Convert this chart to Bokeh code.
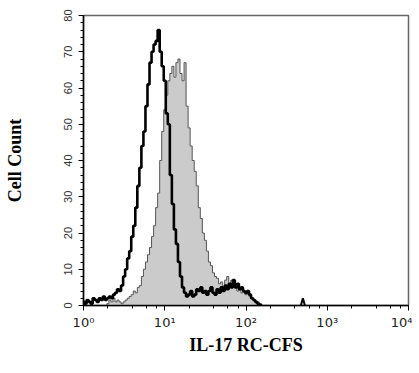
import numpy as np
from bokeh.plotting import figure
from bokeh.models import LogTicker, SingleIntervalTicker, CustomJSTickFormatter, Range1d
from bokeh.embed import file_html
from bokeh.resources import INLINE

# log10 channel positions (start and step of the histogram bins)
log_start = 0.0
log_step = 0.025

isotype_counts = [
    1, 0.5, 1.5, 1, 0.5, 2, 1.5, 1, 2, 1.5,
    2.5, 1.5, 2, 2.5, 2, 3, 3.5, 4.5, 4, 5.5,
    8, 10, 13, 15, 19, 22, 27, 33, 38, 44,
    48, 55, 61, 67, 70, 72, 73, 76, 70, 66,
    62, 53, 50, 36, 28, 21, 17, 12, 8, 5,
    3.5, 2.5, 3, 4, 2.5, 3, 4.5, 4, 5, 3.5,
    4, 3, 4, 5, 3.5, 3, 4.5, 3.5, 5, 4,
    5.5, 4.5, 6, 5, 7, 5, 6, 4.5, 5, 4,
    3.5, 4, 3, 2, 1.5, 1, 0.5, 0.2, 0,
]

il17rc_counts = [
    0, 0, 0, 0, 0, 0, 0, 0, 0, 0,
    0, 0, 0.5, 1.5, 1, 2, 1, 1.5, 1, 0.5,
    1, 1.5, 2, 2.5, 3, 4, 3.5, 5, 5.5, 8,
    10, 12, 14, 16, 19, 22, 27, 31, 40, 48,
    54, 58, 62, 64, 66, 63, 67, 68, 64, 62,
    67, 55, 49, 44, 40, 37, 33, 27, 24, 20,
    18, 15, 12, 11, 9, 8, 7.5, 6, 6.5, 5,
    7, 8, 6, 7, 5, 5.5, 4, 5, 3.5, 4,
    3, 3.5, 2.5, 2, 1.5, 1, 1, 0.5, 0,
]

# isolated high events
event_log = [2.675, 2.70, 2.725]
event_counts = [0, 2, 0]

y_ticks_interval = 10

logs = log_start + log_step * np.arange(len(isotype_counts))
x = 10 ** logs

p = figure(width=412, height=357, x_axis_type="log",
           x_range=Range1d(1, 10000), y_range=Range1d(0, 80),
           output_backend="svg", toolbar_location=None,
           min_border_left=83, min_border_right=4, min_border_top=15, min_border_bottom=10)

p.grid.visible = False
p.background_fill_color = "white"
p.border_fill_color = "white"
p.outline_line_color = "#666666"
p.outline_line_width = 1.5

# grey filled histogram
p.varea_step(x=x, y1=np.zeros(len(x)), y2=il17rc_counts, step_mode="center",
             fill_color="#cbcbcb")
p.step(x, il17rc_counts, mode="center", line_color="#555555", line_width=1)

# isotype black outline
p.step(x, isotype_counts, mode="center", line_color="black", line_width=2.6)
p.line(10 ** np.array(event_log), event_counts, line_color="black", line_width=2)

# axes
xa = p.xaxis[0]
xa.ticker = LogTicker()
xa.formatter = CustomJSTickFormatter(code="""
    const sup = {'0':'\u2070','1':'\u00b9','2':'\u00b2','3':'\u00b3','4':'\u2074'};
    const e = Math.round(Math.log10(tick));
    return '10' + (sup[String(e)] || String(e));
""")
xa.axis_line_color = "black"
xa.axis_line_width = 1.5
xa.major_tick_in = 0
xa.major_tick_out = 5
xa.minor_tick_in = 0
xa.minor_tick_out = 3
xa.major_tick_line_color = "black"
xa.minor_tick_line_color = "black"
xa.major_label_text_font = "DejaVu Sans"
xa.major_label_text_font_size = "13px"
xa.major_label_text_color = "#222222"
xa.major_label_standoff = 4
xa.axis_label = "IL-17 RC-CFS"
xa.axis_label_text_font = "Liberation Serif"
xa.axis_label_text_font_style = "bold"
xa.axis_label_text_font_size = "18px"
xa.axis_label_text_color = "black"
xa.axis_label_standoff = 2

ya = p.yaxis[0]
ya.ticker = SingleIntervalTicker(interval=y_ticks_interval, num_minor_ticks=5)
ya.axis_line_color = "black"
ya.axis_line_width = 1.5
ya.major_tick_in = 0
ya.major_tick_out = 5
ya.minor_tick_in = 0
ya.minor_tick_out = 3
ya.major_label_orientation = "vertical"
ya.major_label_text_font = "Liberation Sans"
ya.major_label_text_font_size = "11px"
ya.major_label_text_color = "#333333"
ya.major_label_standoff = 7
ya.axis_label = "Cell Count"
ya.axis_label_text_font = "Liberation Serif"
ya.axis_label_text_font_style = "bold"
ya.axis_label_text_font_size = "18px"
ya.axis_label_text_color = "black"
ya.axis_label_standoff = 36

open("out.html", "w").write(file_html(p, INLINE))
